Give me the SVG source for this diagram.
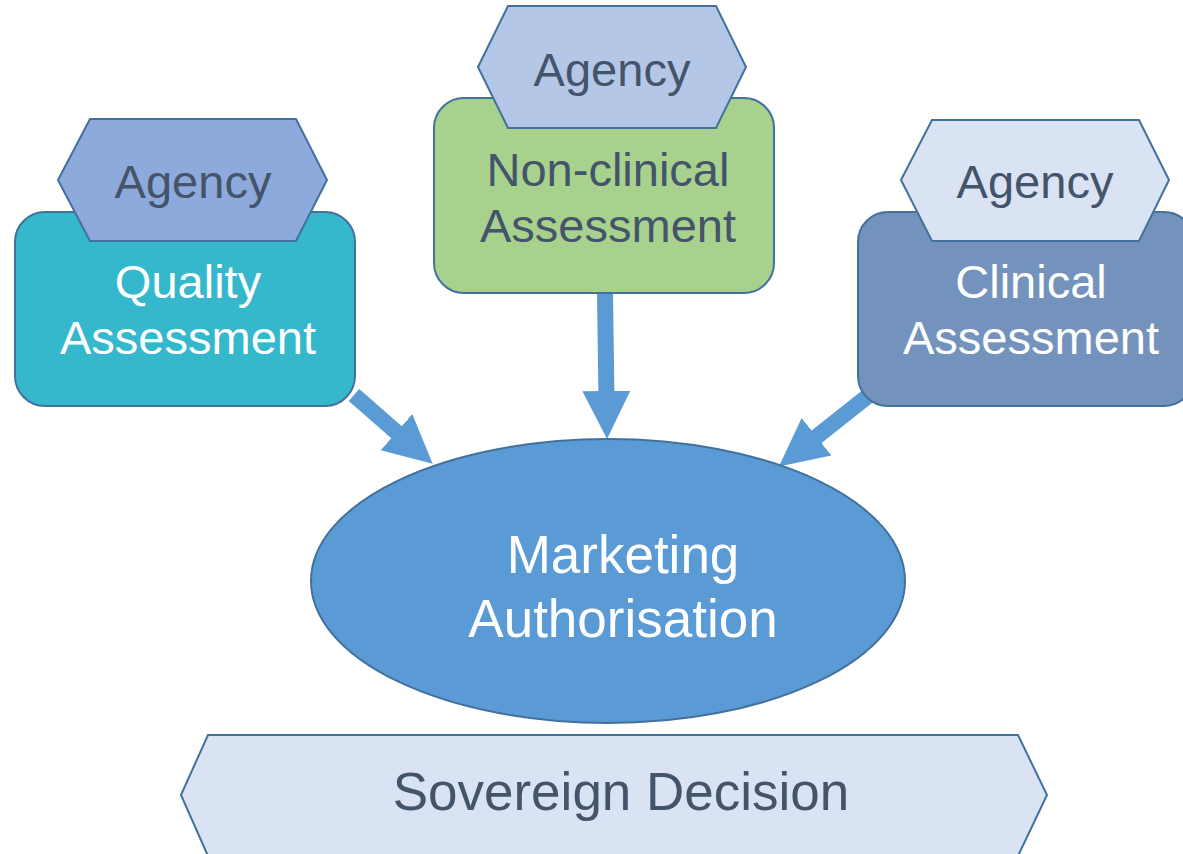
<svg xmlns="http://www.w3.org/2000/svg" width="1183" height="854" viewBox="0 0 1183 854">
<defs>
<style>
.box{stroke:#41719C;stroke-width:2}
.hex{stroke:#41719C;stroke-width:2}
.t{font-family:"Liberation Sans",Arial,sans-serif;text-anchor:middle}
.dark{fill:#44546A}
.light{fill:#FFFFFF}
.conn{stroke:#5B9BD5;stroke-width:16;fill:none}
</style>
<marker id="ah" markerUnits="userSpaceOnUse" markerWidth="48" markerHeight="50" viewBox="0 0 48 50" refX="2" refY="25" orient="auto">
<path d="M0,1 L48,25 L0,49 z" fill="#5B9BD5"/>
</marker>
</defs>
<rect width="1183" height="854" fill="#FFFFFF"/>
<g id="connectors">
<line class="conn" x1="354" y1="395" x2="398" y2="433.5" marker-end="url(#ah)"/>
<line class="conn" x1="605" y1="293" x2="606.4" y2="393" marker-end="url(#ah)"/>
<line class="conn" x1="868" y1="396" x2="815" y2="438" marker-end="url(#ah)"/>
</g>
<g id="sovereign">
<polygon class="hex" points="181,795 208,735 1018,735 1047,795 1018,856 208,856" fill="#DAE3F3"/>
<text class="t dark" x="621" y="810" font-size="53">Sovereign Decision</text>
</g>
<g id="marketing">
<ellipse class="box" cx="608" cy="581" rx="297" ry="142" fill="#5B9BD5"/>
<text class="t light" x="623" y="573" font-size="53">Marketing</text>
<text class="t light" x="623" y="637" font-size="53">Authorisation</text>
</g>
<g id="quality">
<rect class="box" x="15" y="212" width="340" height="194" rx="30" fill="#35B8CC"/>
<text class="t light" x="188" y="298" font-size="47">Quality</text>
<text class="t light" x="188" y="354" font-size="47">Assessment</text>
</g>
<g id="agency-quality">
<polygon class="hex" points="58,180 90,119 296,119 327,180 296,241 90,241" fill="#8EA9DB"/>
<text class="t dark" x="193" y="198" font-size="47">Agency</text>
</g>
<g id="nonclinical">
<rect class="box" x="434" y="98" width="340" height="195" rx="30" fill="#A9D18E"/>
<text class="t dark" x="608" y="186" font-size="47">Non-clinical</text>
<text class="t dark" x="608" y="242" font-size="47">Assessment</text>
</g>
<g id="agency-nonclinical">
<polygon class="hex" points="478,67 508,6 716,6 746,67 716,128 508,128" fill="#B4C7E7"/>
<text class="t dark" x="612" y="86" font-size="47">Agency</text>
</g>
<g id="clinical">
<rect class="box" x="858" y="212" width="336" height="194" rx="30" fill="#7493BC"/>
<text class="t light" x="1031" y="298" font-size="47">Clinical</text>
<text class="t light" x="1031" y="354" font-size="47">Assessment</text>
</g>
<g id="agency-clinical">
<polygon class="hex" points="901,180 932,120 1139,120 1169,180 1139,241 932,241" fill="#DAE3F3"/>
<text class="t dark" x="1035" y="198" font-size="47">Agency</text>
</g>
</svg>
